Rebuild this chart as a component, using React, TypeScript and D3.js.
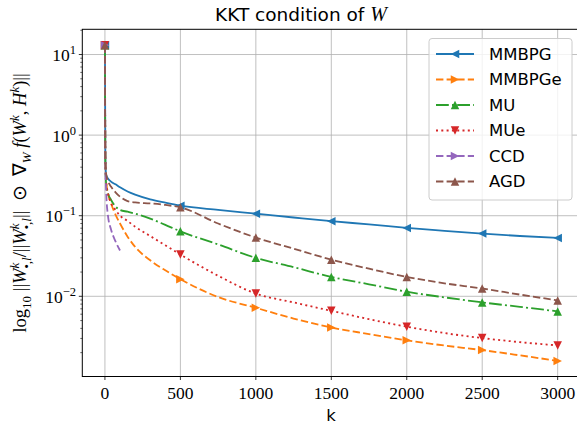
import React, { useEffect, useRef } from "react";
import * as d3 from "d3";

// iteration grid shared by all runs (CCD stops early)
const iters = [0, 3, 8, 20, 40, 70, 100, 150, 200, 300, 400, 500, 750, 1000, 1250, 1500, 1750, 2000, 2250, 2500, 2750, 3000];

const mmbpg = [13, 0.5, 0.32, 0.29, 0.265, 0.245, 0.225, 0.2, 0.183, 0.16, 0.145, 0.133, 0.118, 0.106, 0.095, 0.0855, 0.078, 0.0706, 0.065, 0.0601, 0.056, 0.053];
const mmbpge = [13, 0.5, 0.28, 0.19, 0.143, 0.103, 0.08, 0.055, 0.041, 0.028, 0.021, 0.0163, 0.0098, 0.0072, 0.0053, 0.0041, 0.0034, 0.00284, 0.00245, 0.00215, 0.00185, 0.00158];
const mu = [13, 0.45, 0.25, 0.19, 0.158, 0.13, 0.118, 0.112, 0.106, 0.092, 0.077, 0.064, 0.044, 0.03, 0.023, 0.0174, 0.0141, 0.0114, 0.0097, 0.0084, 0.0074, 0.0065];
const mue = [13, 0.45, 0.25, 0.19, 0.145, 0.118, 0.1, 0.086, 0.073, 0.056, 0.043, 0.033, 0.018, 0.0108, 0.0084, 0.0066, 0.0052, 0.0042, 0.0035, 0.00303, 0.0027, 0.00246];
const ccd = [13, 0.5, 0.2, 0.1, 0.068, 0.048, 0.037];
const agd = [13, 0.5, 0.33, 0.27, 0.23, 0.195, 0.172, 0.152, 0.146, 0.142, 0.136, 0.127, 0.08, 0.0536, 0.039, 0.0285, 0.022, 0.0174, 0.0145, 0.0125, 0.0105, 0.0089];

const labels = ["MMBPG", "MMBPGe", "MU", "MUe", "CCD", "AGD"];
const colors = ["#1f77b4", "#ff7f0e", "#2ca02c", "#d62728", "#9467bd", "#8c564b"];
const dashes = ["", "7.4,3.2", "12.8,3.2,2,3.2", "2,3.3", "7.4,3.2", "7.4,3.2"];
const markers = ["left", "right", "up", "down", "right", "up"];
const markEvery = [0, 500, 1000, 1500, 2000, 2500, 3000];
const xTicks = [0, 500, 1000, 1500, 2000, 2500, 3000];
const yTicks = [1, 0, -1, -2];

const W = 577, H = 427;
const margin = { top: 29.3, right: -3.3, bottom: 50.5, left: 82.3 };

function markerPath(kind: string, r: number) {
  if (kind === "up") return `M0,${-r}L${r},${r}L${-r},${r}Z`;
  if (kind === "down") return `M0,${r}L${r},${-r}L${-r},${-r}Z`;
  if (kind === "left") return `M${-r},0L${r},${-r}L${r},${r}Z`;
  return `M${r},0L${-r},${-r}L${-r},${r}Z`;
}

export default function App() {
  const ref = useRef<SVGSVGElement>(null);

  useEffect(() => {
    const svg = d3.select(ref.current);
    svg.selectAll("*").remove();

    const x = d3.scaleLinear().domain([-150, 3150]).range([margin.left, W - margin.right]);
    const y = d3.scaleLog().domain([Math.pow(10, -2.995), Math.pow(10, 1.313)]).range([H - margin.bottom, margin.top]);
    const x0 = margin.left, x1 = W - margin.right, y0 = H - margin.bottom, y1 = margin.top;

    svg.append("defs").append("clipPath").attr("id", "plot")
      .append("rect").attr("x", x0).attr("y", y1).attr("width", x1 - x0).attr("height", y0 - y1);

    // grid
    const grid = svg.append("g").attr("stroke", "#b0b0b0").attr("stroke-width", 0.8);
    grid.selectAll("line.v").data(xTicks).join("line")
      .attr("x1", d => x(d)).attr("x2", d => x(d)).attr("y1", y1).attr("y2", y0);
    grid.selectAll("line.h").data(yTicks).join("line")
      .attr("y1", d => y(Math.pow(10, d))).attr("y2", d => y(Math.pow(10, d))).attr("x1", x0).attr("x2", x1);

    // series
    const series = [mmbpg, mmbpge, mu, mue, ccd, agd];
    const line = d3.line<[number, number]>().x(d => x(d[0])).y(d => y(d[1])).curve(d3.curveMonotoneX);
    const plot = svg.append("g").attr("clip-path", "url(#plot)");
    series.forEach((vals, i) => {
      const pts: [number, number][] = vals.map((v, j) => [iters[j], v]);
      plot.append("path").datum(pts)
        .attr("d", line)
        .attr("fill", "none")
        .attr("stroke", colors[i])
        .attr("stroke-width", 1.8)
        .attr("stroke-dasharray", dashes[i] || null);
      plot.selectAll(null).data(pts.filter(p => markEvery.includes(p[0]))).join("path")
        .attr("transform", d => `translate(${x(d[0])},${y(d[1])})`)
        .attr("d", markerPath(markers[i], 4.25))
        .attr("fill", colors[i]);
    });

    // spines
    svg.append("rect").attr("x", x0).attr("y", y1).attr("width", x1 - x0).attr("height", y0 - y1)
      .attr("fill", "none").attr("stroke", "#000").attr("stroke-width", 1);

    // x axis
    const xa = svg.append("g");
    xa.selectAll("line").data(xTicks).join("line")
      .attr("x1", d => x(d)).attr("x2", d => x(d)).attr("y1", y0).attr("y2", y0 + 3.5)
      .attr("stroke", "#000").attr("stroke-width", 0.8);
    xa.selectAll("text").data(xTicks).join("text")
      .attr("x", d => x(d)).attr("y", 399)
      .attr("text-anchor", "middle")
      .attr("font-family", "Liberation Serif, serif").attr("font-size", 17.5)
      .text(d => String(d));
    svg.append("text").attr("x", 331).attr("y", 420.5)
      .attr("text-anchor", "middle").attr("font-family", "DejaVu Sans, sans-serif").attr("font-size", 16.5)
      .text("k");

    // y axis
    const ya = svg.append("g");
    const minors: number[] = [];
    for (let d = -3; d <= 1; d++) for (let m = 2; m <= 9; m++) {
      const v = m * Math.pow(10, d);
      if (v >= y.domain()[0] && v <= y.domain()[1]) minors.push(v);
    }
    ya.selectAll("line.mi").data(minors).join("line")
      .attr("x1", x0 - 2).attr("x2", x0).attr("y1", d => y(d)).attr("y2", d => y(d))
      .attr("stroke", "#000").attr("stroke-width", 0.6);
    ya.selectAll("line.ma").data(yTicks).join("line")
      .attr("x1", x0 - 3.5).attr("x2", x0).attr("y1", d => y(Math.pow(10, d))).attr("y2", d => y(Math.pow(10, d)))
      .attr("stroke", "#000").attr("stroke-width", 0.8);
    yTicks.forEach(d => {
      const t = ya.append("text")
        .attr("x", 76).attr("y", y(Math.pow(10, d)) + 6.5)
        .attr("text-anchor", "end")
        .attr("font-family", "Liberation Serif, serif").attr("font-size", 17.5);
      t.append("tspan").text("10");
      t.append("tspan").attr("dy", -7).attr("font-size", 12.5).text(d < 0 ? "\u2212" + Math.abs(d) : String(d));
    });

    // y label, pieces of the math expression
    const segs: { t: string; it?: boolean; sh?: string; dx?: number }[] = [
      { t: "log" }, { t: "10", sh: "sub" }, { t: " ||" }, { t: "W", it: true },
      { t: "k", it: true, sh: "sup" }, { t: "\u2022,l", it: true, sh: "sub", dx: -6 },
      { t: "/||" }, { t: "W", it: true }, { t: "k", it: true, sh: "sup" },
      { t: "\u2022,l", it: true, sh: "sub", dx: -6 }, { t: "||\u2002\u2299\u2002\u2207" },
      { t: "W", it: true, sh: "sub" }, { t: " f", it: true }, { t: "(" }, { t: "W", it: true },
      { t: "k", it: true, sh: "sup" }, { t: ", " }, { t: "H", it: true }, { t: "k", it: true, sh: "sup" },
      { t: ")||" },
    ];
    const yl = svg.append("text")
      .attr("transform", `translate(26,${(y0 + y1) / 2}) rotate(-90)`)
      .attr("text-anchor", "middle")
      .attr("font-family", "Liberation Serif, serif").attr("font-size", 18.5);
    let cur = 0;
    segs.forEach(s => {
      const target = s.sh === "sup" ? -7.5 : s.sh === "sub" ? 4.5 : 0;
      const ts = yl.append("tspan").attr("dy", target - cur).text(s.t);
      cur = target;
      if (s.dx) ts.attr("dx", s.dx);
      if (s.sh) ts.attr("font-size", 13);
      if (s.it) ts.attr("font-style", "italic");
    });

    // title
    const title = svg.append("text").attr("x", 301).attr("y", 21)
      .attr("text-anchor", "middle").attr("font-size", 18.5);
    title.append("tspan").attr("font-family", "DejaVu Sans, sans-serif").text("KKT condition of ");
    title.append("tspan").attr("font-family", "Liberation Serif, serif").attr("font-style", "italic").attr("font-size", 20).text("W");

    // legend
    const lg = svg.append("g");
    lg.append("rect").attr("x", 429).attr("y", 38.5).attr("width", 143).attr("height", 161.5).attr("rx", 3)
      .attr("fill", "#fff").attr("fill-opacity", 0.8).attr("stroke", "#cccccc").attr("stroke-width", 1);
    labels.forEach((name, i) => {
      const ly = 54 + i * 25.5;
      lg.append("line").attr("x1", 436).attr("x2", 474).attr("y1", ly).attr("y2", ly)
        .attr("stroke", colors[i]).attr("stroke-width", 1.8).attr("stroke-dasharray", dashes[i] || null);
      lg.append("path").attr("transform", `translate(455,${ly})`).attr("d", markerPath(markers[i], 4.25)).attr("fill", colors[i]);
      lg.append("text").attr("x", 489).attr("y", ly).attr("dy", "0.36em")
        .attr("font-family", "DejaVu Sans, sans-serif").attr("font-size", 16.5).text(name);
    });
  }, []);

  return <svg ref={ref} width={W} height={H} style={{ position: "absolute", left: 0, top: 0 }} />;
}
